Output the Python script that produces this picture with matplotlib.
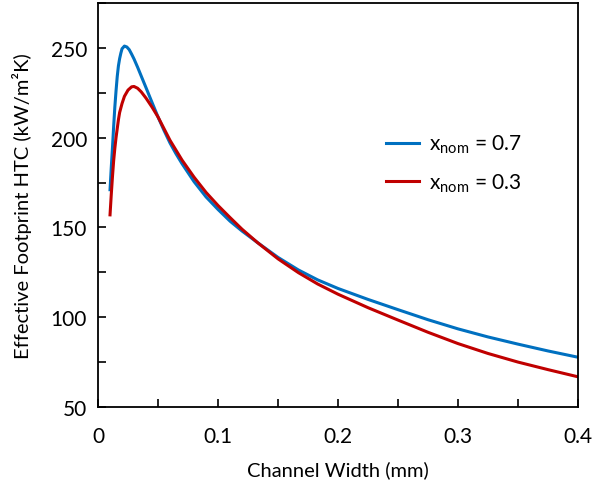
import matplotlib
matplotlib.use('Agg')
import matplotlib.pyplot as plt
from matplotlib.ticker import MultipleLocator

plt.rcParams['font.family'] = ['Lato', 'DejaVu Sans']
plt.rcParams['mathtext.fontset'] = 'custom'
plt.rcParams['mathtext.rm'] = 'Lato'

# 通道宽度 (mm) 与有效换热系数
x_07 = [0.010, 0.011, 0.012, 0.013, 0.014, 0.015, 0.016, 0.017, 0.018, 0.019,
        0.020, 0.022, 0.024, 0.026, 0.028, 0.030, 0.033, 0.036, 0.040, 0.045,
        0.050, 0.055, 0.060, 0.065, 0.070, 0.080, 0.090, 0.100, 0.110, 0.120,
        0.133, 0.150, 0.167, 0.183, 0.200, 0.225, 0.250, 0.275, 0.300, 0.325,
        0.350, 0.375, 0.400]
htc_07 = [171, 183, 194, 206, 217, 226, 234, 240, 244, 247,
          249.5, 251, 250.5, 249, 246.5, 243.8, 239.2, 234.3, 227.8, 219.6,
          211.5, 204, 197, 191, 185.5, 175.5, 167, 160, 153.5, 148,
          141.5, 133.3, 126.3, 120.8, 116, 109.9, 104.2, 98.6, 93.5, 89,
          85, 81.2, 77.7]

x_03 = [0.010, 0.011, 0.012, 0.013, 0.014, 0.015, 0.016, 0.017, 0.018, 0.020,
        0.022, 0.025, 0.028, 0.030, 0.033, 0.036, 0.040, 0.045, 0.050, 0.055,
        0.060, 0.065, 0.070, 0.080, 0.090, 0.100, 0.110, 0.120, 0.133, 0.150,
        0.167, 0.183, 0.200, 0.225, 0.250, 0.275, 0.300, 0.325, 0.350, 0.375,
        0.400]
htc_03 = [157, 168, 178, 187, 194, 200, 205, 210, 214, 219,
          223, 226.5, 228.3, 228.5, 227.5, 225.5, 222, 217, 211.5, 205,
          198.5, 193, 187.5, 178, 169.5, 162.2, 155.5, 149, 141.5, 132.5,
          124.8, 118.5, 112.8, 105.3, 98.4, 91.6, 85.3, 79.8, 75, 70.8,
          66.8]

fig = plt.figure(figsize=(6.04, 4.85), dpi=100)
ax = fig.add_axes([0.1623, 0.1588, 0.7947, 0.833])

ax.plot(x_07, htc_07, color='#0070C0', linewidth=2.2, solid_joinstyle='round',
        label=r'x$_{\mathrm{nom}}$ = 0.7')
ax.plot(x_03, htc_03, color='#C00000', linewidth=2.2, solid_joinstyle='round',
        label=r'x$_{\mathrm{nom}}$ = 0.3')

ax.set_xlim(0, 0.4)
ax.set_ylim(50, 275)
ax.set_xticks([0, 0.1, 0.2, 0.3, 0.4])
ax.set_xticklabels(['0', '0.1', '0.2', '0.3', '0.4'])
ax.set_yticks([50, 100, 150, 200, 250])
ax.xaxis.set_minor_locator(MultipleLocator(0.05))
ax.yaxis.set_minor_locator(MultipleLocator(25))

ax.tick_params(which='both', direction='in', length=6, width=1.2, labelsize=15)
ax.tick_params(axis='x', pad=14)
ax.tick_params(axis='y', pad=8)
for sp in ax.spines.values():
    sp.set_linewidth(1.3)

ax.set_xlabel('Channel Width (mm)', fontsize=14.5, labelpad=10)
ax.set_ylabel('Effective Footprint HTC (kW/m²K)', fontsize=14.5, labelpad=13)

ax.legend(loc='upper left', bbox_to_anchor=(0.56, 0.725), frameon=False,
          fontsize=15, handlelength=1.6, handletextpad=0.5, labelspacing=0.78)

fig.savefig('out.png', dpi=100)
